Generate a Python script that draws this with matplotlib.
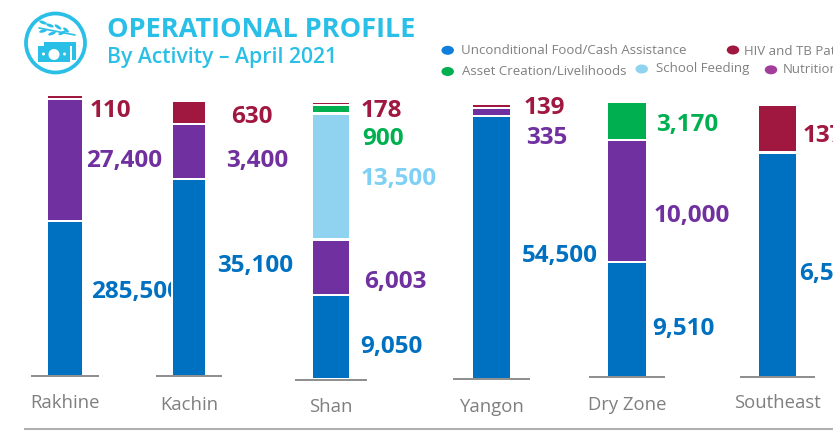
import matplotlib
matplotlib.use("Agg")
import matplotlib.pyplot as plt
from matplotlib.patches import Circle, Ellipse, Rectangle, Polygon

plt.rcParams['font.family'] = ['Open Sans', 'DejaVu Sans']

# ---- data ----
regions = ["Rakhine", "Kachin", "Shan", "Yangon", "Dry Zone", "Southeast"]
activities = ["Unconditional Food/Cash Assistance", "Nutrition", "School Feeding",
              "Asset Creation/Livelihoods", "HIV and TB Patients"]
# beneficiaries printed beside each segment
food_values = [285500, 35100, 9050, 54500, 9510, 6500]
nutrition_values = [27400, 3400, 6003, 335, 10000, 0]
school_values = [0, 0, 13500, 0, 0, 0]
asset_values = [0, 0, 900, 0, 3170, 0]
hiv_values = [110, 630, 178, 139, 0, 137]
# the reference's segments are not to scale with the numbers: drawn heights as read
food_heights = [153, 194.7, 82, 260.4, 113, 222]
nutrition_heights = [119.3, 53, 53.3, 6, 119.3, 0]
school_heights = [0, 0, 123.7, 0, 0, 0]
asset_heights = [0, 0, 6, 0, 36.3, 0]
hiv_heights = [1.7, 21, 1.5, 1.5, 0, 45.3]

# ---- layout and style (pixels, measured from the top-left corner) ----
W, H = 833, 433
colors = ["#0070C0", "#7030A0", "#8FD3F1", "#00B050", "#A0183F"]
label_colors = ["#0070C0", "#7030A0", "#7FD0F5", "#00B050", "#A0183F"]
GAP = 2.3
bar_left = [48.3, 173, 313.3, 473, 608.3, 759.3]
bar_right = [82, 205, 348.7, 510, 645.7, 796]
bar_base = [375, 375, 378.3, 377.7, 376, 375.7]
rule_left = [31, 155.7, 295, 453, 589.3, 740]
rule_right = [99.3, 222, 367, 530, 665, 815]
rule_y = [375.8, 376.2, 379.7, 379, 377, 376.8]
region_x = [65, 189, 331, 491, 627, 777]
region_y = [403.5, 404.5, 407.5, 406.5, 405.5, 403.5]
label_x = [
    [91, 217.5, 360.5, 522, 652.5, 799.5],
    [86.5, 226.5, 364.5, 526.5, 653.5, None],
    [None, None, 360.5, None, None, None],
    [None, None, 362.5, None, 656.5, None],
    [89.5, 231.5, 360.5, 523.5, None, 802.5],
]
label_y = [
    [292, 266, 347, 256, 329, 274],
    [161, 161, 282, 138, 216, None],
    [None, None, 179, None, None, None],
    [None, None, 139, None, 125, None],
    [111, 117, 111, 108, None, 136],
]
legend_marker = [(447.7, 50.3), (771, 69.8), (641.7, 69), (447.7, 71.5), (733, 50)]
legend_marker_color = ["#0F7FDB", "#A23D9C", "#8FD3F1", "#00B050", "#A0183F"]
legend_text = [(461.5, 50.7), (783, 69.7), (656, 68.7), (462.5, 71.7), (744, 51.2)]

fig = plt.figure(figsize=(W / 100, H / 100), dpi=100, facecolor="white")
ax = fig.add_axes([0, 0, 1, 1])
ax.set_xlim(0, W)
ax.set_ylim(H, 0)      # pixel-like data coordinates, y downwards
ax.axis("off")

heights = [food_heights, nutrition_heights, school_heights, asset_heights, hiv_heights]
values = [food_values, nutrition_values, school_values, asset_values, hiv_values]

# bars
for i in range(len(regions)):
    y = bar_base[i]
    centre = (bar_left[i] + bar_right[i]) / 2
    width = bar_right[i] - bar_left[i]
    for s in range(len(activities)):
        h = heights[s][i]
        if h <= 0:
            continue
        ax.bar(centre, -h, width=width, bottom=y, color=colors[s], linewidth=0, zorder=2)
        y = y - h - GAP
    ax.plot([rule_left[i], rule_right[i]], [rule_y[i]] * 2, color="#808080", lw=1.25,
            solid_capstyle="butt", zorder=3)
    ax.text(region_x[i], region_y[i], regions[i], ha="center", va="center",
            fontsize=13.3, color="#7F7F7F")

# value labels
for s in range(len(activities)):
    for i in range(len(regions)):
        if label_x[s][i] is None:
            continue
        t = ax.text(label_x[s][i], label_y[s][i], f"{values[s][i]:,}", ha="left", va="center",
                    fontsize=17.5, fontweight="bold", color=label_colors[s], zorder=4)
        if regions[i] == "Rakhine" and s == 0:
            t.set_clip_on(True)
            t.set_clip_path(Rectangle((0, 0), 171, H, transform=ax.transData))

# legend
for s in range(len(activities)):
    mx, my = legend_marker[s]
    ax.add_patch(Ellipse((mx, my), 12.5, 9, color=legend_marker_color[s], lw=0))
    ax.text(legend_text[s][0], legend_text[s][1], activities[s], ha="left", va="center",
            fontsize=9.55, color="#808080", clip_on=True)

# heading
TITLE_BLUE = "#29BFE6"
ax.text(107, 30, "OPERATIONAL PROFILE", ha="left", va="center", fontsize=19.5,
        fontweight="bold", color=TITLE_BLUE)
ax.text(107, 58, "By Activity – April 2021", ha="left", va="center", fontsize=15.2,
        fontweight=600, color=TITLE_BLUE)

# icon: ring, banknotes and wheat
ax.add_patch(Circle((55.5, 43), 29.5, fc="none", ec=TITLE_BLUE, lw=2.7))
ax.add_patch(Polygon([(44, 42), (76, 42), (76, 60), (72, 60), (72, 46), (44, 46)],
                     closed=True, fc=TITLE_BLUE, lw=0))
ax.add_patch(Rectangle((38, 46), 32, 16, fc=TITLE_BLUE, lw=0))
ax.add_patch(Ellipse((54, 54.5), 11, 11, fc="white", lw=0))
ax.add_patch(Circle((43.5, 54), 1.5, fc="white", lw=0))
ax.add_patch(Circle((64.5, 54), 1.5, fc="white", lw=0))
ax.plot([39, 75], [28, 35], color=TITLE_BLUE, lw=1.2, solid_capstyle="round")
leaves = [(43, 22.5, 8, 3, 20), (50, 25.5, 8, 3, 20), (58, 27, 8, 3, 35), (66, 30, 7, 3, 40),
          (43, 31, 8, 3, -15), (52, 33.5, 8, 3, -20), (62, 33, 8, 3, -25)]
for lx, ly, lw_, lh, ang in leaves:
    ax.add_patch(Ellipse((lx, ly), lw_, lh, angle=ang, fc=TITLE_BLUE, lw=0))

# footer rule
ax.plot([24, W], [429, 429], color="#B0B0B0", lw=1.5, solid_capstyle="butt")

fig.savefig("out.png", dpi=100, facecolor="white")
